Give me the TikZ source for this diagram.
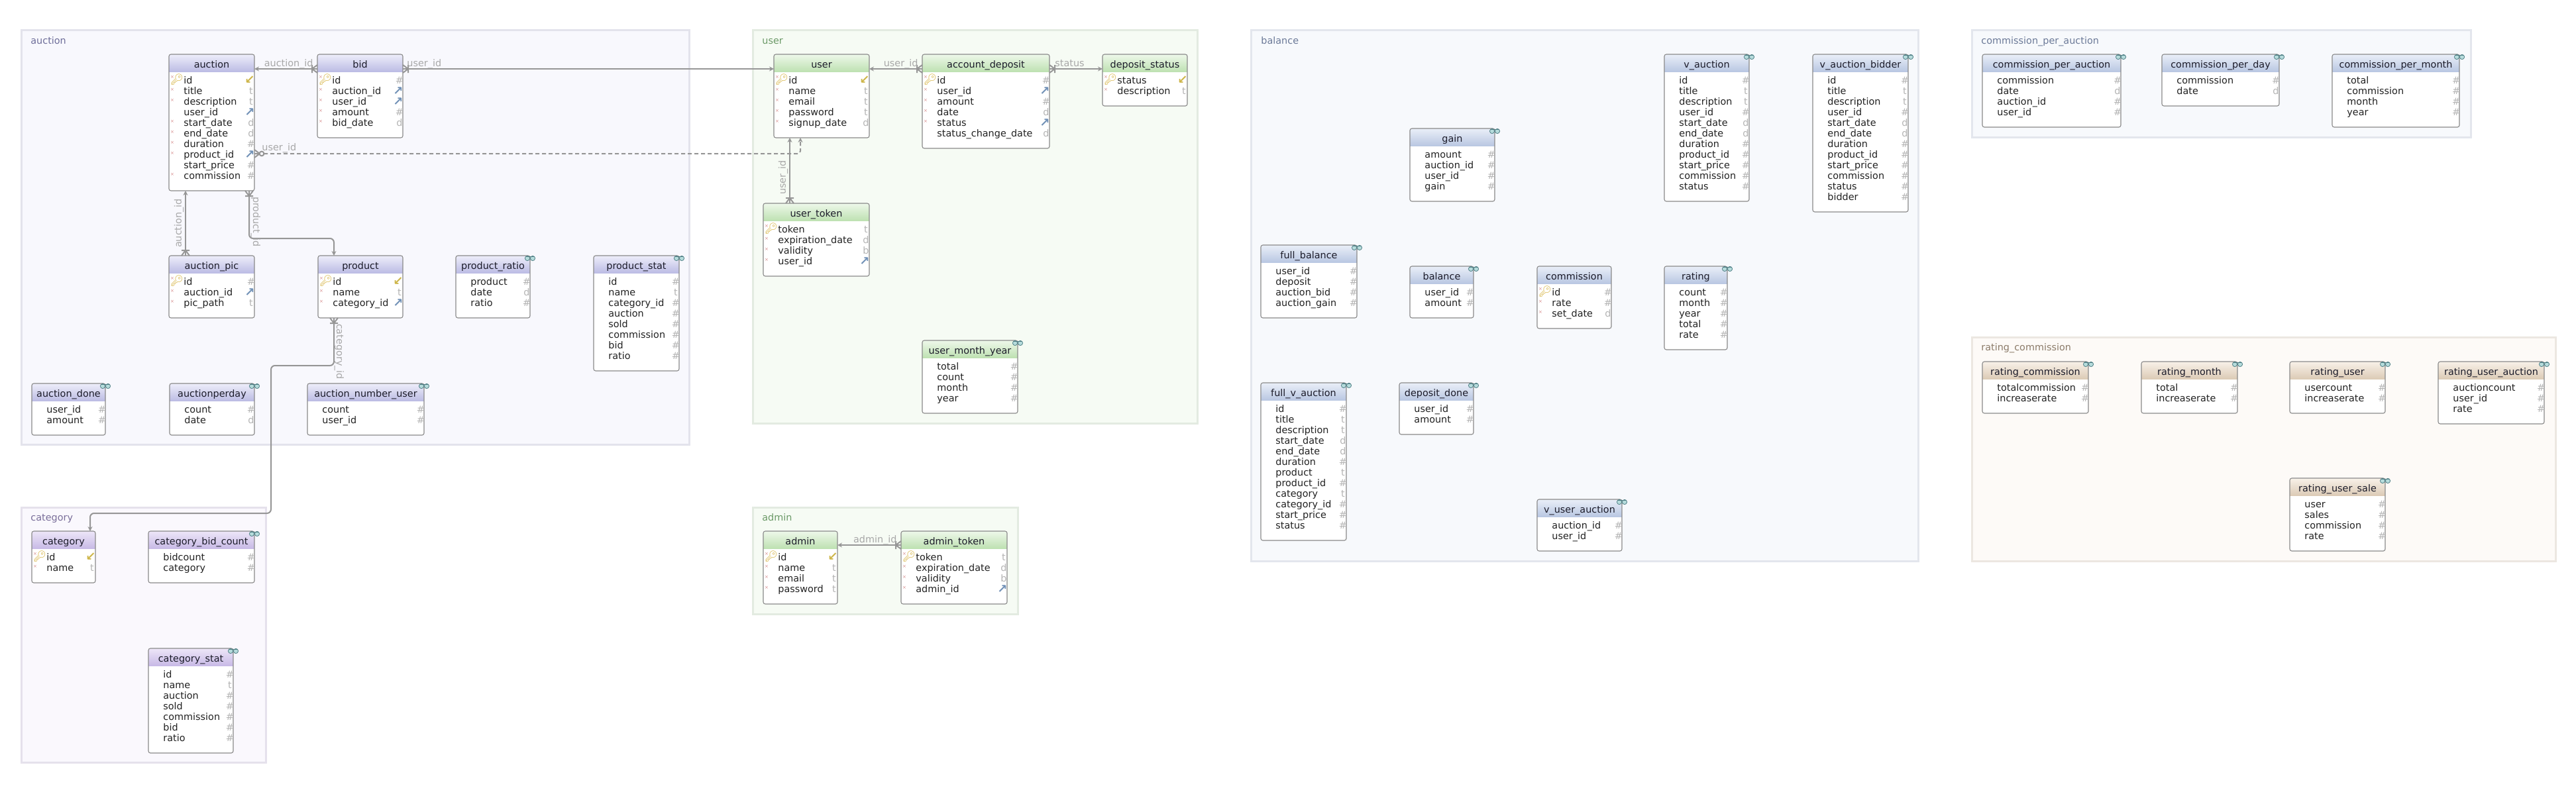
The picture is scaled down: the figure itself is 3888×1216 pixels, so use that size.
\documentclass[tikz,border=0pt]{standalone}
\usepackage{fontspec}
\setmainfont{DejaVu Sans}
\newfontfamily\emojifont{Noto Emoji}
\usetikzlibrary{arrows.meta}

\definecolor{grpAbg}{HTML}{F8F8FD}\definecolor{grpAbd}{HTML}{E3E3EC}\definecolor{grpAtx}{HTML}{6E6E9A}
\definecolor{grpCbg}{HTML}{FAF8FD}\definecolor{grpCbd}{HTML}{E5E1EC}\definecolor{grpCtx}{HTML}{7A6E9A}
\definecolor{grpUbg}{HTML}{F6FBF4}\definecolor{grpUbd}{HTML}{E3EBE1}\definecolor{grpUtx}{HTML}{6C9A68}
\definecolor{grpBbg}{HTML}{F7F9FC}\definecolor{grpBbd}{HTML}{E3E6ED}\definecolor{grpBtx}{HTML}{6C7A98}
\definecolor{grpRbg}{HTML}{FDFAF7}\definecolor{grpRbd}{HTML}{ECE7E1}\definecolor{grpRtx}{HTML}{8C7C6A}
\definecolor{auctop}{HTML}{EEEEFA}\definecolor{aucbot}{HTML}{BCBCE4}
\definecolor{cattop}{HTML}{EDE6F8}\definecolor{catbot}{HTML}{C8BAE6}
\definecolor{usrtop}{HTML}{EEF8EA}\definecolor{usrbot}{HTML}{BEE1B2}
\definecolor{baltop}{HTML}{EAEFF8}\definecolor{balbot}{HTML}{B9C7E2}
\definecolor{rattop}{HTML}{F8F1E9}\definecolor{ratbot}{HTML}{DCCBB6}
\definecolor{tblbd}{HTML}{8A8A8A}
\definecolor{hdrtx}{HTML}{1C1C2A}
\definecolor{rowtx}{HTML}{222222}
\definecolor{typtx}{HTML}{B4B4B4}
\definecolor{fkcol}{HTML}{7090B6}
\definecolor{pkcol}{HTML}{CDB548}
\definecolor{keycol}{HTML}{D4AF37}
\definecolor{nncol}{HTML}{D89090}
\definecolor{glassbd}{HTML}{4F7F85}
\definecolor{glassfl}{HTML}{B6DCDC}
\definecolor{conncol}{HTML}{969696}
\definecolor{clabcol}{HTML}{A8A8A8}

\newcommand\dbfont{\fontsize{7.2}{8.6}\selectfont}

\tikzset{
  tblbox/.style={fill=white, draw=none, rounded corners=1.5pt, inner sep=0pt, outer sep=0pt},
  tblline/.style={draw=tblbd, line width=0.55pt},
  hdr/.style={anchor=base, inner sep=0pt, font=\dbfont, text=hdrtx},
  rowt/.style={anchor=base west, inner sep=0pt, font=\dbfont, text=rowtx},
  typ/.style={anchor=base, inner sep=0pt, font=\dbfont, text=typtx},
  fkic/.style={inner sep=0pt, font=\fontsize{9}{9}\selectfont\bfseries, text=fkcol},
  pkic/.style={inner sep=0pt, font=\fontsize{9}{9}\selectfont\bfseries, text=pkcol},
  keyic/.style={inner sep=0pt, font=\emojifont\fontsize{8}{8}\selectfont, text=keycol},
  nnx/.style={inner sep=0pt, font=\fontsize{3.5}{3.5}\selectfont, text=nncol},
  glassd/.style={draw=glassbd, fill=glassfl, line width=0.4pt},
  grp/.style={line width=1.5pt},
  grplab/.style={anchor=base west, inner sep=0pt, font=\dbfont},
  conn/.style={draw=conncol, line width=1pt},
  arr/.style={-{Stealth[length=3.5pt,width=3.5pt]}},
  dsh/.style={dash pattern=on 3pt off 2pt},
  clab/.style={inner sep=0pt, font=\dbfont, text=clabcol},
}

% row markers: #1 table name, #2 left x, #3 baseline y
\newcommand\dbmkk[3]{\node[keyic] (#1-key) at (#2+12,#3-6) {🔑};\node[nnx] (#1-x\rowi) at (#2+5,#3-10) {×};}
\newcommand\dbmkx[3]{\node[nnx] (#1-x\rowi) at (#2+5,#3-7) {×};}
\newcommand\dbmkn[3]{}
% type markers: #1 table name, #2 right x, #3 baseline y
\newcommand\dbtyh[3]{\node[typ] (#1-t\rowi) at (#2-5,#3) {\#};}
\newcommand\dbtyt[3]{\node[typ] (#1-t\rowi) at (#2-5,#3) {t};}
\newcommand\dbtyd[3]{\node[typ] (#1-t\rowi) at (#2-5,#3) {d};}
\newcommand\dbtyb[3]{\node[typ] (#1-t\rowi) at (#2-5,#3) {b};}
\newcommand\dbtyf[3]{\node[fkic] (#1-t\rowi) at (#2-7,#3-5) {↗};}
\newcommand\dbtyc[3]{\node[pkic] (#1-t\rowi) at (#2-7,#3-6) {↙};}

\newcommand\dbglass[2]{%
  \draw[glassd] (#1-4,#2+4) circle[radius=1.8pt] (#1+4,#2+4) circle[radius=1.8pt];
  \draw[draw=glassbd, line width=0.4pt] (#1-6,#2+1) -- (#1+6,#2+1);}

% #1 name, #2 title, #3 left, #4 top, #5 right, #6 colour scheme, #7 view flag, #8 rows
\newcommand\dbt[8]{%
  \foreach \rowr [count=\rowc] in {#8} {\xdef\dbn{\rowc}}%
  \pgfmathsetmacro\dbb{#4+46+16*\dbn}%
  \pgfmathsetmacro\dbw{(#5-#3)*0.5}%
  \pgfmathsetmacro\dbh{(\dbb-#4)*0.5}%
  \node[tblbox, minimum width=\dbw pt, minimum height=\dbh pt, anchor=north west] (#1) at (#3,#4) {};%
  \begin{scope}
    \clip[rounded corners=1.5pt] (#1.north west) rectangle (#1.south east);
    \shade[top color=#6top, bottom color=#6bot] (#3,#4) rectangle (#5,#4+26);
  \end{scope}
  \draw[tblline, rounded corners=1.5pt] (#1.north west) rectangle (#1.south east);%
  \node[hdr] (#1-h) at ({(#3+#5)/2},#4+20) {#2};%
  \ifnum#7=1 \dbglass{#5}{#4}\fi
  \foreach \rowm/\rowt/\rowy [count=\rowi from 0] in {#8} {%
    \pgfmathsetmacro\ry{#4+44.5+16*\rowi}%
    \node[rowt] (#1-\rowi) at (#3+22,\ry) {\rowt};%
    \csname dbmk\rowm\endcsname{#1}{#3}{\ry}%
    \csname dbty\rowy\endcsname{#1}{#5}{\ry}%
  }%
}

\newcommand\crowL[1]{\draw[conn] (#1) ++(-8,0) -- ++(8,-6) (#1) ++(-8,0) -- ++(8,6) (#1) ++(-8,-6) -- ++(0,12);}
\newcommand\crowR[1]{\draw[conn] (#1) ++(8,0) -- ++(-8,-6) (#1) ++(8,0) -- ++(-8,6) (#1) ++(8,-6) -- ++(0,12);}
\newcommand\crowU[1]{\draw[conn] (#1) ++(0,-8) -- ++(-6,8) (#1) ++(0,-8) -- ++(6,8) (#1) ++(-6,-8) -- ++(12,0);}
\newcommand\crowD[1]{\draw[conn] (#1) ++(0,8) -- ++(-6,-8) (#1) ++(0,8) -- ++(6,-8) (#1) ++(-6,8) -- ++(12,0);}

\begin{document}
\begin{tikzpicture}[x=0.5pt, y=-0.5pt]
\fill[white] (0,0) rectangle (3888,1216);
\path[use as bounding box] (0,0) rectangle (3888,1216);

% ---------- groups ----------
\draw[grp, draw=grpAbd, fill=grpAbg] (32,45) rectangle (1040,671);
\node[grplab, text=grpAtx] (gAuction) at (46,66) {auction};
\draw[grp, draw=grpCbd, fill=grpCbg] (32,766) rectangle (401,1151);
\node[grplab, text=grpCtx] (gCategory) at (46,786) {category};
\draw[grp, draw=grpUbd, fill=grpUbg] (1136,45) rectangle (1807,639);
\node[grplab, text=grpUtx] (gUser) at (1150,66) {user};
\draw[grp, draw=grpUbd, fill=grpUbg] (1136,766) rectangle (1536,927);
\node[grplab, text=grpUtx] (gAdmin) at (1150,786) {admin};
\draw[grp, draw=grpBbd, fill=grpBbg] (1888,45) rectangle (2895,847);
\node[grplab, text=grpBtx] (gBalance) at (1903,66) {balance};
\draw[grp, draw=grpBbd, fill=grpBbg] (2976,45) rectangle (3729,207);
\node[grplab, text=grpBtx] (gCpa) at (2990,66) {commission\_per\_auction};
\draw[grp, draw=grpRbd, fill=grpRbg] (2976,509) rectangle (3857,847);
\node[grplab, text=grpRtx] (gRating) at (2990,529) {rating\_commission};

% ---------- auction group ----------
\dbt{auction}{auction}{255}{82}{384}{auc}{0}{k/id/c,x/title/t,x/description/t,n/user\_id/f,x/start\_date/d,x/end\_date/d,x/duration/h,x/product\_id/f,n/start\_price/h,x/commission/h}
\dbt{bid}{bid}{479}{82}{608}{auc}{0}{k/id/h,x/auction\_id/f,x/user\_id/f,x/amount/h,x/bid\_date/d}
\dbt{auctionpic}{auction\_pic}{255}{386}{384}{auc}{0}{k/id/h,x/auction\_id/f,x/pic\_path/t}
\dbt{product}{product}{480}{386}{608}{auc}{0}{k/id/c,x/name/t,x/category\_id/f}
\dbt{productratio}{product\_ratio}{688}{386}{800}{auc}{1}{n/product/h,n/date/d,n/ratio/h}
\dbt{productstat}{product\_stat}{896}{386}{1025}{auc}{1}{n/id/h,n/name/t,n/category\_id/h,n/auction/h,n/sold/h,n/commission/h,n/bid/h,n/ratio/h}
\dbt{auctiondone}{auction\_done}{48}{579}{159}{auc}{1}{n/user\_id/h,n/amount/h}
\dbt{auctionperday}{auctionperday}{256}{579}{384}{auc}{1}{n/count/h,n/date/d}
\dbt{auctionnumberuser}{auction\_number\_user}{464}{579}{640}{auc}{1}{n/count/h,n/user\_id/h}

% ---------- category group ----------
\dbt{category}{category}{48}{802}{144}{cat}{0}{k/id/c,x/name/t}
\dbt{categorybidcount}{category\_bid\_count}{224}{802}{384}{cat}{1}{n/bidcount/h,n/category/h}
\dbt{categorystat}{category\_stat}{224}{979}{352}{cat}{1}{n/id/h,n/name/t,n/auction/h,n/sold/h,n/commission/h,n/bid/h,n/ratio/h}

% ---------- user group ----------
\dbt{user}{user}{1168}{82}{1312}{usr}{0}{k/id/c,x/name/t,x/email/t,x/password/t,x/signup\_date/d}
\dbt{accountdeposit}{account\_deposit}{1392}{82}{1584}{usr}{0}{k/id/h,x/user\_id/f,x/amount/h,x/date/d,x/status/f,n/status\_change\_date/d}
\dbt{depositstatus}{deposit\_status}{1664}{82}{1792}{usr}{0}{k/status/c,x/description/t}
\dbt{usertoken}{user\_token}{1152}{307}{1312}{usr}{0}{k/token/t,x/expiration\_date/d,x/validity/b,x/user\_id/f}
\dbt{usermonthyear}{user\_month\_year}{1392}{514}{1536}{usr}{1}{n/total/h,n/count/h,n/month/h,n/year/h}

% ---------- admin group ----------
\dbt{admin}{admin}{1152}{802}{1264}{usr}{0}{k/id/c,x/name/t,x/email/t,x/password/t}
\dbt{admintoken}{admin\_token}{1360}{802}{1520}{usr}{0}{k/token/t,x/expiration\_date/d,x/validity/b,x/admin\_id/f}

% ---------- balance group ----------
\dbt{vauction}{v\_auction}{2512}{82}{2640}{bal}{1}{n/id/h,n/title/t,n/description/t,n/user\_id/h,n/start\_date/d,n/end\_date/d,n/duration/h,n/product\_id/h,n/start\_price/h,n/commission/h,n/status/h}
\dbt{vauctionbidder}{v\_auction\_bidder}{2736}{82}{2880}{bal}{1}{n/id/h,n/title/t,n/description/t,n/user\_id/h,n/start\_date/d,n/end\_date/d,n/duration/h,n/product\_id/h,n/start\_price/h,n/commission/h,n/status/h,n/bidder/h}
\dbt{gain}{gain}{2128}{194}{2256}{bal}{1}{n/amount/h,n/auction\_id/h,n/user\_id/h,n/gain/h}
\dbt{fullbalance}{full\_balance}{1903}{370}{2048}{bal}{1}{n/user\_id/h,n/deposit/h,n/auction\_bid/h,n/auction\_gain/h}
\dbt{balance}{balance}{2128}{402}{2224}{bal}{1}{n/user\_id/h,n/amount/h}
\dbt{commission}{commission}{2320}{402}{2432}{bal}{0}{k/id/h,x/rate/h,x/set\_date/d}
\dbt{rating}{rating}{2512}{402}{2607}{bal}{1}{n/count/h,n/month/h,n/year/h,n/total/h,n/rate/h}
\dbt{fullvauction}{full\_v\_auction}{1903}{578}{2032}{bal}{1}{n/id/h,n/title/t,n/description/t,n/start\_date/d,n/end\_date/d,n/duration/h,n/product/t,n/product\_id/h,n/category/t,n/category\_id/h,n/start\_price/h,n/status/h}
\dbt{depositdone}{deposit\_done}{2112}{578}{2224}{bal}{1}{n/user\_id/h,n/amount/h}
\dbt{vuserauction}{v\_user\_auction}{2320}{754}{2448}{bal}{1}{n/auction\_id/h,n/user\_id/h}

% ---------- commission_per_auction group ----------
\dbt{cpa}{commission\_per\_auction}{2992}{82}{3201}{bal}{1}{n/commission/h,n/date/d,n/auction\_id/h,n/user\_id/h}
\dbt{cpd}{commission\_per\_day}{3263}{82}{3440}{bal}{1}{n/commission/h,n/date/d}
\dbt{cpm}{commission\_per\_month}{3520}{82}{3712}{bal}{1}{n/total/h,n/commission/h,n/month/h,n/year/h}

% ---------- rating_commission group ----------
\dbt{ratingcommission}{rating\_commission}{2992}{546}{3152}{rat}{1}{n/totalcommission/h,n/increaserate/h}
\dbt{ratingmonth}{rating\_month}{3232}{546}{3377}{rat}{1}{n/total/h,n/increaserate/h}
\dbt{ratinguser}{rating\_user}{3456}{546}{3600}{rat}{1}{n/usercount/h,n/increaserate/h}
\dbt{ratinguserauction}{rating\_user\_auction}{3680}{546}{3840}{rat}{1}{n/auctioncount/h,n/user\_id/h,n/rate/h}
\dbt{ratingusersale}{rating\_user\_sale}{3456}{722}{3600}{rat}{1}{n/user/h,n/sales/h,n/commission/h,n/rate/h}

% ---------- connectors ----------
% bid -> auction
\coordinate (c1s) at ([yshift=-11pt]bid.north west);
\coordinate (c1e) at ([yshift=-11pt]auction.north east);
\draw[conn, arr] (c1s) -- (c1e);
\crowL{c1s}
\node[clab, anchor=base east] (l1) at ([xshift=-3pt, yshift=2pt]c1s) {auction\_id};

% bid -> user
\coordinate (c2s) at ([yshift=-11pt]bid.north east);
\coordinate (c2e) at ([yshift=-11pt]user.north west);
\draw[conn, arr] (c2s) -- (c2e);
\crowR{c2s}
\node[clab, anchor=base west] (l2) at ([xshift=3pt, yshift=2pt]c2s) {user\_id};

% auction -> user (dashed)
\coordinate (c3s) at ([yshift=-75pt]auction.north east);
\coordinate (c3e) at ([xshift=20pt]user.south west);
\draw[conn, dsh, arr, rounded corners=2pt] ([xshift=7pt]c3s) -| (c3e);
\draw[conn] (c3s) ++(8,0) -- ++(-8,-6) (c3s) ++(8,0) -- ++(-8,6) (c3s) ++(0,0) -- ++(10,0);
\draw[conn, fill=grpAbg] ([xshift=5.5pt]c3s) circle[radius=1.7pt];
\node[clab, anchor=base west] (l3) at ([xshift=5.5pt, yshift=2.5pt]c3s) {user\_id};

% auction_pic -> auction
\coordinate (c4s) at ([xshift=12.5pt]auctionpic.north west);
\coordinate (c4e) at ([xshift=12.5pt]auction.south west);
\draw[conn, arr] (c4s) -- (c4e);
\crowU{c4s}
\node[clab, rotate=90] (l4) at ([xshift=-5pt, yshift=24.5pt]c4s) {auction\_id};

% auction -> product
\coordinate (c5s) at ([xshift=-4pt]auction.south east);
\coordinate (c5e) at ([xshift=12pt]product.north west);
\draw[conn, arr, rounded corners=3pt] (c5s) -- ++(0,72) -| (c5e);
\crowD{c5s}
\node[clab, rotate=-90] (l5) at ([xshift=5pt, yshift=-23.5pt]c5s) {product\_id};

% product -> category
\coordinate (c6s) at ([xshift=12pt]product.south west);
\coordinate (c6e) at ([xshift=44pt]category.north west);
\draw[conn, arr, rounded corners=3pt] (c6s) -- ++(0,72) -- ++(-95,0) -- ++(0,223) -| (c6e);
\crowD{c6s}
\node[clab, rotate=-90] (l6) at ([xshift=4pt, yshift=-25.5pt]c6s) {category\_id};

% account_deposit -> user
\coordinate (c7s) at ([yshift=-11pt]accountdeposit.north west);
\coordinate (c7e) at ([yshift=-11pt]user.north east);
\draw[conn, arr] (c7s) -- (c7e);
\crowL{c7s}
\node[clab, anchor=base east] (l7) at ([xshift=-3pt, yshift=2pt]c7s) {user\_id};

% account_deposit -> deposit_status
\coordinate (c8s) at ([yshift=-11pt]accountdeposit.north east);
\coordinate (c8e) at ([yshift=-11pt]depositstatus.north west);
\draw[conn, arr] (c8s) -- (c8e);
\crowR{c8s}
\node[clab, anchor=base west] (l8) at ([xshift=4pt, yshift=2pt]c8s) {status};

% user_token -> user
\coordinate (c9s) at ([xshift=20pt]usertoken.north west);
\coordinate (c9e) at ([xshift=12pt]user.south west);
\draw[conn, arr] (c9s) -- (c9e);
\crowU{c9s}
\node[clab, rotate=90] (l9) at ([xshift=-5pt, yshift=19.5pt]c9s) {user\_id};

% admin_token -> admin
\coordinate (c10s) at ([yshift=-10.5pt]admintoken.north west);
\coordinate (c10e) at ([yshift=-10.5pt]admin.north east);
\draw[conn, arr] (c10s) -- (c10e);
\crowL{c10s}
\node[clab, anchor=base east] (l10) at ([xshift=-3pt, yshift=2pt]c10s) {admin\_id};

\end{tikzpicture}
\end{document}
